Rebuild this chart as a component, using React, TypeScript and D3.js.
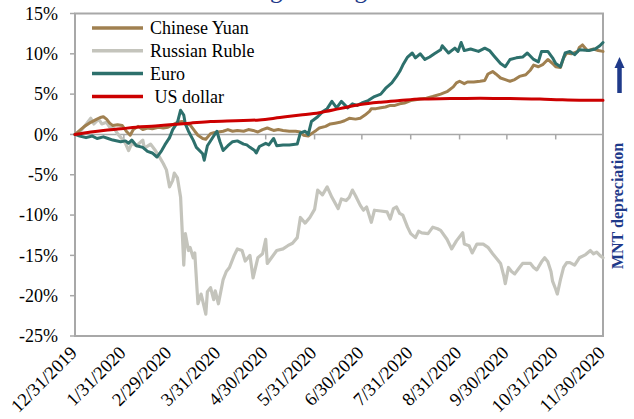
import React from 'react';
import * as d3 from 'd3';

const START_DATE = '12/31/2019';
const X_TICK_LABELS = ['12/31/2019', '1/31/2020', '2/29/2020', '3/31/2020', '4/30/2020', '5/31/2020', '6/30/2020', '7/31/2020', '8/31/2020', '9/30/2020', '10/31/2020', '11/30/2020'];
const Y_TICKS = [15, 10, 5, 0, -5, -10, -15, -20, -25];
const SERIES_NAMES = ['Chinese Yuan', 'Russian Ruble', 'Euro', ' US dollar'];
const SERIES_COLORS = ['#A08050', '#C4C4BC', '#2D706C', '#CC0000'];

// [days since 12/31/2019, % change]
const yuan: [number, number][] = [
  [0, 0], [3, 0.5], [6, 1.0], [10, 1.5], [13, 1.8], [16, 2.1], [18, 2.2], [20, 1.9], [22, 1.4], [24, 1.1], [27, 1.2], [30, 1.1],
  [33, 0.3], [35, -0.1], [37, 0.6], [40, 1.0], [43, 0.6], [46, 0.8], [49, 0.7], [53, 0.9], [56, 0.8], [59, 0.9], [62, 1.2],
  [65, 1.5], [68, 1.6], [70, 1.3], [73, 1.2], [76, 0.4], [78, -0.1], [81, -0.5], [83, -0.6], [86, 0.1], [88, 0.2], [91, 0.3],
  [94, 0.4], [97, 0.6], [100, 0.4], [103, 0.5], [107, 0.4], [110, 0.6], [113, 0.5], [116, 0.3], [119, 0.6], [122, 0.8],
  [126, 0.5], [129, 0.6], [132, 0.5], [136, 0.4], [140, 0.4], [143, 0.3], [145, -0.1], [148, -0.2], [150, 0.1], [153, 0.5],
  [155, 0.8], [159, 1.0], [162, 1.3], [165, 1.4], [168, 1.5], [171, 1.7], [174, 2.0], [178, 1.9], [181, 2.0], [184, 2.4],
  [187, 2.9], [188, 3.2], [191, 3.2], [194, 3.3], [197, 3.4], [200, 3.6], [203, 3.6], [206, 3.8], [209, 3.9], [213, 4.2],
  [216, 4.3], [219, 4.4], [223, 4.5], [227, 4.7], [232, 5.0], [236, 5.3], [240, 5.9], [242, 6.4], [244, 6.6], [247, 6.3],
  [249, 6.5], [253, 6.5], [257, 6.6], [260, 6.7], [262, 7.5], [265, 7.8], [267, 7.5], [270, 7.0], [273, 6.8], [276, 6.6],
  [279, 6.8], [282, 7.2], [286, 7.4], [289, 8.0], [291, 8.6], [294, 8.4], [297, 8.7], [300, 9.3], [303, 8.8], [305, 8.4],
  [308, 8.3], [310, 9.5], [312, 10.1], [315, 10.0], [319, 10.3], [320, 10.8], [322, 11.1], [325, 10.4], [329, 10.6],
  [332, 10.4], [335, 10.3],
];

const ruble: [number, number][] = [
  [0, 0], [3, 0.3], [6, 1.0], [10, 2.0], [12, 1.3], [15, 1.9], [17, 1.3], [20, 1.5], [22, 0.9], [25, 0.7], [27, 0.1],
  [30, -0.6], [32, -1.1], [34, -2.0], [36, -1.1], [39, -1.4], [43, -0.7], [44, -1.7], [48, -1.2], [51, -2.0], [53, -2.6],
  [56, -3.6], [58, -4.4], [60, -6.5], [62, -5.7], [63, -4.8], [65, -5.4], [67, -7.8], [68, -11.9], [69, -16.2], [70, -12.3],
  [72, -14.4], [73, -14.0], [75, -15.3], [76, -14.7], [78, -21.0], [80, -19.8], [81, -20.6], [83, -22.3], [84, -19.5],
  [86, -19.0], [88, -20.5], [89, -19.4], [91, -21.0], [94, -18.0], [96, -17.0], [98, -16.5], [101, -15.0], [103, -14.2],
  [106, -14.4], [108, -15.7], [111, -15.0], [113, -17.8], [116, -15.3], [119, -14.8], [121, -13.0], [122, -16.0],
  [125, -15.2], [128, -14.4], [132, -14.2], [135, -13.8], [138, -13.5], [141, -12.8], [143, -10.3], [146, -11.0],
  [149, -10.3], [152, -9.3], [154, -6.9], [157, -7.5], [160, -6.5], [163, -7.8], [167, -9.2], [169, -8.0], [172, -8.2],
  [174, -7.8], [176, -6.9], [178, -7.6], [181, -8.8], [183, -9.4], [185, -9.0], [188, -10.9], [190, -9.4], [194, -9.5],
  [198, -9.6], [200, -10.5], [202, -9.2], [204, -9.0], [206, -9.8], [208, -10.0], [211, -11.5], [213, -12.3], [216, -12.8],
  [218, -12.0], [220, -12.2], [224, -12.3], [227, -11.5], [230, -11.7], [232, -11.9], [236, -13.0], [239, -14.2],
  [242, -13.2], [246, -12.2], [247, -13.6], [250, -13.8], [252, -14.7], [255, -13.6], [259, -13.6], [262, -14.0],
  [265, -14.8], [268, -15.5], [270, -16.0], [272, -17.5], [273, -18.5], [275, -16.5], [277, -17.0], [279, -17.3],
  [282, -16.5], [284, -16.0], [287, -16.0], [289, -16.0], [291, -16.5], [293, -16.8], [296, -15.8], [298, -15.3],
  [300, -15.8], [302, -17.0], [303, -18.2], [305, -19.2], [306, -19.8], [308, -18.0], [310, -16.5], [312, -15.9],
  [314, -15.9], [317, -16.2], [320, -15.3], [324, -14.9], [327, -14.4], [329, -14.8], [331, -14.6], [333, -15.0], [335, -15.3],
];

const euro: [number, number][] = [
  [0, 0], [3, -0.2], [7, -0.4], [11, -0.2], [14, -0.5], [18, -0.3], [21, -0.5], [24, -0.7], [29, -0.9], [32, -0.8],
  [34, -1.1], [36, -0.7], [39, -1.4], [43, -1.6], [46, -2.1], [49, -2.3], [52, -2.8], [55, -2.0], [57, -1.3], [60, -0.4],
  [62, 0.6], [65, 1.5], [67, 3.0], [69, 2.4], [70, 1.3], [72, 0.4], [75, -0.7], [77, -1.6], [81, -2.4], [82, -3.2],
  [84, -1.4], [88, -0.2], [90, 0.4], [92, -0.9], [94, -2.0], [97, -1.4], [100, -0.9], [103, -0.8], [107, -1.2], [109, -1.3],
  [111, -1.6], [114, -2.0], [115, -2.3], [117, -1.5], [121, -1.1], [123, -1.3], [126, -0.5], [128, -1.4], [132, -1.3],
  [136, -1.3], [141, -1.2], [143, 0.2], [146, 0.4], [148, 0.0], [150, 1.6], [154, 2.2], [157, 2.8], [160, 3.2], [163, 4.1],
  [166, 3.3], [169, 4.1], [173, 3.3], [176, 3.8], [179, 3.6], [182, 3.9], [186, 4.2], [190, 4.7], [194, 5.0], [197, 5.7],
  [201, 6.4], [204, 7.2], [206, 7.8], [208, 8.6], [211, 9.6], [214, 10.1], [216, 9.5], [219, 10.0], [222, 9.3], [225, 9.6],
  [228, 10.0], [232, 10.5], [233, 11.0], [237, 10.1], [241, 10.7], [243, 10.3], [245, 11.4], [247, 10.4], [251, 10.6],
  [256, 10.3], [260, 10.7], [263, 10.4], [266, 9.7], [270, 8.8], [273, 8.4], [276, 9.3], [280, 9.5], [284, 9.6],
  [287, 10.1], [291, 9.3], [294, 9.0], [296, 10.3], [300, 10.3], [303, 9.5], [305, 8.8], [308, 8.4], [311, 10.1],
  [314, 10.3], [317, 9.9], [320, 10.5], [326, 10.4], [330, 10.6], [333, 11.0], [335, 11.4],
];

const usd: [number, number][] = [
  [0, 0], [10, 0.3], [18, 0.5], [29, 0.7], [39, 0.9], [51, 1.05], [60, 1.2], [73, 1.4], [86, 1.6], [102, 1.7], [117, 1.8],
  [130, 2.1], [143, 2.4], [155, 2.7], [168, 3.2], [181, 3.7], [194, 4.0], [206, 4.2], [219, 4.4], [238, 4.45], [257, 4.5],
  [276, 4.45], [295, 4.4], [308, 4.3], [320, 4.25], [335, 4.25],
];

const SERIES = [yuan, ruble, euro, usd];

const W = 634;
const H = 419;
const PLOT = { left: 75, right: 603, top: 13.5, bottom: 336 };
const AXIS_COLOR = '#A8A8A8';
const NAVY = '#1F3A8A';
const FONT = '"Liberation Serif", "Times New Roman", serif';

export default function App() {
  const parse = d3.timeParse('%m/%d/%Y');
  const start = parse(START_DATE) as Date;
  const tickDates = X_TICK_LABELS.map((s) => parse(s) as Date);
  const x = d3.scaleTime().domain([start, tickDates[tickDates.length - 1]]).range([PLOT.left, PLOT.right]);
  const y = d3.scaleLinear().domain([-25, 15]).range([PLOT.bottom, PLOT.top]);
  const toDate = (d: number) => d3.timeDay.offset(start, d);

  const line = d3
    .line<[number, number]>()
    .x((d) => x(toDate(d[0])))
    .y((d) => y(d[1]))
    .curve(d3.curveLinear);
  const smooth = d3
    .line<[number, number]>()
    .x((d) => x(toDate(d[0])))
    .y((d) => y(d[1]))
    .curve(d3.curveMonotoneX);

  const y0 = y(0);
  const drawOrder = [1, 0, 2, 3];

  return (
    <div style={{ position: 'absolute', left: 0, top: 0 }}>
      <style>{`body{margin:0}`}</style>
      <svg width={W} height={H} style={{ display: 'block', background: '#fff' }}>
        {/* title, cut off at the top edge as in the original */}
        <text x={195} y={-2} fontFamily={FONT} fontSize={25} fill={NAVY}>
          Exchange rate against MNT
        </text>

        {/* plot border */}
        <rect
          x={PLOT.left}
          y={PLOT.top}
          width={PLOT.right - PLOT.left}
          height={PLOT.bottom - PLOT.top}
          fill="none"
          stroke={AXIS_COLOR}
          strokeWidth={2}
        />

        {/* y ticks and labels */}
        {Y_TICKS.map((t) => (
          <g key={t}>
            <line x1={PLOT.left - 5} x2={PLOT.left} y1={y(t)} y2={y(t)} stroke={AXIS_COLOR} strokeWidth={1.5} />
            <text
              x={PLOT.left - 17}
              y={y(t)}
              dy="0.35em"
              textAnchor="end"
              fontFamily={FONT}
              fontSize={18}
              fill="#000"
            >
              {`${t}%`}
            </text>
          </g>
        ))}

        {/* x axis at zero */}
        <line x1={PLOT.left} x2={PLOT.right} y1={y0} y2={y0} stroke={AXIS_COLOR} strokeWidth={1.5} />
        {tickDates.map((d, i) => (
          <line key={i} x1={x(d)} x2={x(d)} y1={y0} y2={y0 + 5} stroke={AXIS_COLOR} strokeWidth={1.5} />
        ))}
        {tickDates.map((d, i) => (
          <text
            key={i}
            transform={`translate(${x(d) + 3},${354}) rotate(-45)`}
            textAnchor="end"
            fontFamily={FONT}
            fontSize={18.5}
            fill="#000"
          >
            {X_TICK_LABELS[i]}
          </text>
        ))}

        {/* series */}
        {drawOrder.map((i) => (
          <path
            key={i}
            d={(i === 3 ? smooth : line)(SERIES[i]) || ''}
            fill="none"
            stroke={SERIES_COLORS[i]}
            strokeWidth={i === 1 ? 3.2 : 3}
            strokeLinejoin="round"
            strokeLinecap="round"
          />
        ))}

        {/* legend */}
        {SERIES_NAMES.map((name, i) => {
          const ly = 28 + i * 22.8;
          return (
            <g key={name}>
              <line x1={92} x2={143} y1={ly} y2={ly} stroke={SERIES_COLORS[i]} strokeWidth={3.5} />
              <text
                x={150}
                y={ly}
                dy="0.35em"
                fontFamily={FONT}
                fontSize={18}
                fill="#000"
                style={{ whiteSpace: 'pre' }}
              >
                {name}
              </text>
            </g>
          );
        })}

        {/* MNT depreciation label & arrow */}
        <text
          transform={`translate(${623},${206}) rotate(-90)`}
          textAnchor="middle"
          fontFamily={FONT}
          fontSize={16}
          fontWeight="bold"
          fill={NAVY}
        >
          MNT depreciation
        </text>
        <line x1={619.5} x2={619.5} y1={93} y2={66} stroke={NAVY} strokeWidth={4.5} />
        <path d={`M${614.5},${68} L${619.5},${57} L${624.5},${68} Z`} fill={NAVY} />
      </svg>
    </div>
  );
}
